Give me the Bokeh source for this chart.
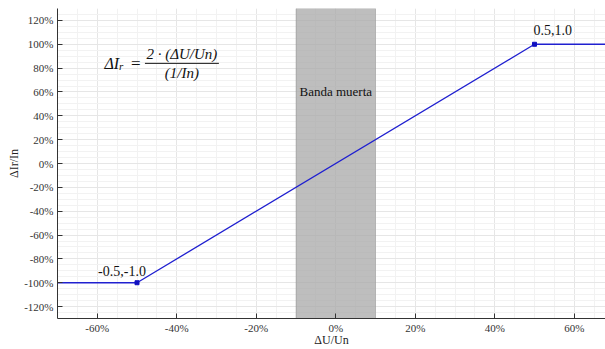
from bokeh.plotting import figure
from bokeh.models import Range1d, NumeralTickFormatter, FixedTicker, Label, BoxAnnotation, ColumnDataSource
from bokeh.embed import file_html
from bokeh.resources import INLINE

# data
curve_x = [-0.7, -0.5, 0.5, 0.7]
curve_y = [-1.0, -1.0, 1.0, 1.0]
marker_x = [-0.5, 0.5]
marker_y = [-1.0, 1.0]
marker_labels = ["-0.5,-1.0", "0.5,1.0"]
band_left, band_right = -0.1, 0.1
x_ticks = [-0.6, -0.4, -0.2, 0.0, 0.2, 0.4, 0.6]
y_ticks = [-1.2, -1.0, -0.8, -0.6, -0.4, -0.2, 0.0, 0.2, 0.4, 0.6, 0.8, 1.0, 1.2]

SERIF = "Liberation Serif"

p = figure(width=605, height=349, output_backend="svg", toolbar_location=None,
           x_range=Range1d(-0.7, 0.6786), y_range=Range1d(-1.3, 1.3),
           min_border_left=57, min_border_right=0, min_border_top=8, min_border_bottom=31)
p.outline_line_color = None

# grids
for g in (p.xgrid, p.ygrid):
    g.grid_line_color = "#e6e6e6"
    g.minor_grid_line_color = "#f2f2f2"
    g.level = "underlay"

p.xaxis.ticker = FixedTicker(ticks=x_ticks, minor_ticks=[i / 100 for i in range(-70, 71, 5)])
p.yaxis.ticker = FixedTicker(ticks=y_ticks, minor_ticks=[i / 100 for i in range(-130, 131, 5)])
p.xaxis.formatter = NumeralTickFormatter(format="0%")
p.yaxis.formatter = NumeralTickFormatter(format="0%")

for ax in (p.xaxis, p.yaxis):
    ax.major_tick_in = 5
    ax.major_tick_out = 0
    ax.minor_tick_in = 0
    ax.minor_tick_out = 0
    ax.axis_line_color = "#333333"
    ax.major_tick_line_color = "#333333"
    ax.major_label_text_font = SERIF
    ax.major_label_text_font_size = "11px"
    ax.major_label_text_color = "#333333"
    ax.axis_label_text_font = SERIF
    ax.axis_label_text_font_size = "12px"
    ax.axis_label_text_font_style = "normal"
    ax.axis_label_text_color = "#222222"
    ax.axis_label_standoff = 0
    ax.major_label_standoff = 4

p.xaxis.axis_label = "ΔU/Un"
p.yaxis.axis_label = "ΔIr/In"
p.xaxis.major_label_standoff = 3
p.xaxis.axis_label_standoff = -4

# dead band
band = BoxAnnotation(left=band_left, right=band_right, fill_color="#a8a8a8", fill_alpha=0.75,
                     line_color="#666666", line_width=1, level="underlay")
p.add_layout(band)
p.add_layout(Label(x=0.0, y=0.6, text="Banda muerta", text_align="center", text_baseline="middle",
                   text_font=SERIF, text_font_size="13px", text_color="#111111"))

# curve
p.line(curve_x, curve_y, line_color="#2020d0", line_width=1.3)
src = ColumnDataSource(dict(x=marker_x, y=marker_y, t=marker_labels))
p.scatter("x", "y", source=src, marker="square", size=4, color="#1010c0")
p.add_layout(Label(x=-0.5, y=-1.0, x_offset=-15, y_offset=7, text=marker_labels[0], text_align="center",
                   text_font=SERIF, text_font_size="14px", text_color="#111111"))
p.add_layout(Label(x=0.5, y=1.0, x_offset=-1, y_offset=9, text=marker_labels[1], text_align="left",
                   text_font=SERIF, text_font_size="14px", text_color="#111111"))

# formula (as text)
p.add_layout(Label(x=-0.545, y=0.84, text="ΔI", text_align="right", text_baseline="middle",
                   text_font=SERIF, text_font_style="italic", text_font_size="16px", text_color="#111111"))
p.add_layout(Label(x=-0.545, y=0.815, text="r", text_align="left", text_baseline="middle",
                   text_font=SERIF, text_font_style="italic", text_font_size="11px", text_color="#111111"))
p.add_layout(Label(x=-0.503, y=0.84, text="=", text_align="center", text_baseline="middle",
                   text_font=SERIF, text_font_size="17px", text_color="#111111"))
p.add_layout(Label(x=-0.387, y=0.915, text="2 · (ΔU/Un)", text_align="center", text_baseline="middle",
                   text_font=SERIF, text_font_style="italic", text_font_size="15px", text_color="#111111"))
p.add_layout(Label(x=-0.387, y=0.76, text="(1/In)", text_align="center", text_baseline="middle",
                   text_font=SERIF, text_font_style="italic", text_font_size="15px", text_color="#111111"))
p.segment(x0=[-0.480], y0=[0.84], x1=[-0.294], y1=[0.84], line_color="#111111", line_width=1)

open("out.html", "w").write(file_html(p, INLINE))
